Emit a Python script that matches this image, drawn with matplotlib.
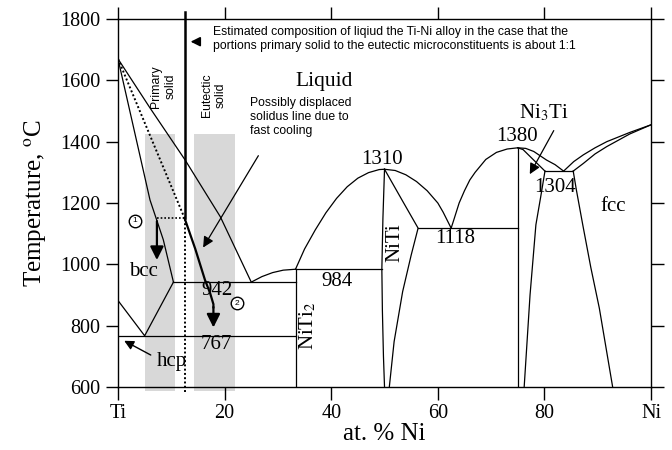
import matplotlib.pyplot as plt

plt.rcParams['font.family'] = 'Liberation Serif'
plt.rcParams['mathtext.fontset'] = 'stix'

# phase boundaries (at.% Ni, temperature in C)
liq_ti_x = [0, 6, 12.6, 19.2, 25.0]
liq_ti_T = [1670, 1510, 1340, 1155, 942]
sol_bcc_x = [0, 6.0, 8.5, 10.4]
sol_bcc_T = [1670, 1210, 1080, 942]
transus_x = [0, 5.0, 10.4]
transus_T = [882, 767, 942]
liq_ti2ni_x = [25.0, 27, 29, 31, 33.3]
liq_ti2ni_T = [942, 960, 973, 981, 984]
liq_niti_l_x = [33.3, 35, 37, 39, 41, 43, 45, 47, 49, 50]
liq_niti_l_T = [984, 1050, 1112, 1168, 1215, 1253, 1281, 1299, 1309, 1310]
liq_niti_r_x = [50, 52, 54, 56, 58, 60, 61, 62.5]
liq_niti_r_T = [1310, 1306, 1292, 1270, 1240, 1200, 1170, 1118]
liq_ni3ti_l_x = [62.5, 63, 64, 65, 66, 67, 69, 71, 73, 75]
liq_ni3ti_l_T = [1118, 1145, 1200, 1240, 1275, 1300, 1342, 1365, 1376, 1380]
liq_ni3ti_r_x = [75, 76.5, 78, 80.4, 82, 83.6]
liq_ni3ti_r_T = [1380, 1378, 1368, 1340, 1325, 1304]
sol_ni3ti_x = [75, 76, 80.1]
sol_ni3ti_T = [1380, 1374, 1304]
liq_fcc_x = [83.6, 85.5, 87.3, 89.5, 91.7, 96, 100]
liq_fcc_T = [1304, 1335, 1357, 1380, 1400, 1430, 1455]
sol_fcc_x = [85.4, 87.3, 89.5, 91.7, 96, 100]
sol_fcc_T = [1304, 1329, 1360, 1384, 1425, 1455]
ni3ti_r_x = [80.1, 79.3, 78.4, 77.3, 76.2]
ni3ti_r_T = [1304, 1220, 1129, 900, 600]
solvus_fcc_x = [85.4, 86.0, 87.2, 88.7, 90.3, 92.8]
solvus_fcc_T = [1304, 1242, 1128, 990, 857, 600]
niti_l_x = [50, 49.7, 49.5, 49.6, 49.8, 50.0]
niti_l_T = [1310, 1150, 984, 850, 700, 600]
niti_r_x = [50, 53.5, 56.3, 55.0, 53.4, 51.8, 50.9]
niti_r_T = [1310, 1203, 1118, 1030, 911, 748, 600]

# invariant lines: (x_start, x_end, T)
invariants = [(10.4, 33.3, 942), (0, 33.3, 767), (33.3, 49.5, 984),
              (56.3, 75, 1118), (80.1, 85.4, 1304)]
# compounds drawn as vertical lines: (x, T_top)
compounds = [(33.3, 984), (75, 1380)]

# alloy composition and displaced solidus path
alloy_x = 12.5
alloy_T = 1150
path_x = [12.5, 14.5, 16.3, 17.3, 17.9, 17.9]
path_T = [1150, 1050, 950, 905, 870, 860]

# shaded bands (x_start, x_end)
bands = [(5.1, 10.7), (14.3, 21.95)]
band_T = (588, 1425)

xticks = [0, 20, 40, 60, 80, 100]
xticklabels = ['Ti', '20', '40', '60', '80', 'Ni']
yticks = [600, 800, 1000, 1200, 1400, 1600, 1800]

fig = plt.figure(figsize=(6.72, 4.5), dpi=100)
ax = fig.add_axes([0.1756, 0.14, 0.7932, 0.8178])

for x0, x1 in bands:
    ax.fill_between([x0, x1], band_T[0], band_T[1], color='#d8d8d8',
                    lw=0, zorder=0, clip_on=False)

lw = 0.9
curves = [(liq_ti_x, liq_ti_T), (sol_bcc_x, sol_bcc_T), (transus_x, transus_T),
          (liq_ti2ni_x, liq_ti2ni_T), (liq_niti_l_x, liq_niti_l_T),
          (liq_niti_r_x, liq_niti_r_T), (liq_ni3ti_l_x, liq_ni3ti_l_T),
          (liq_ni3ti_r_x, liq_ni3ti_r_T), (sol_ni3ti_x, sol_ni3ti_T),
          (liq_fcc_x, liq_fcc_T), (sol_fcc_x, sol_fcc_T), (ni3ti_r_x, ni3ti_r_T),
          (solvus_fcc_x, solvus_fcc_T), (niti_l_x, niti_l_T), (niti_r_x, niti_r_T)]
for cx, cT in curves:
    ax.plot(cx, cT, color='k', lw=lw)
for x0, x1, T in invariants:
    ax.plot([x0, x1], [T, T], color='k', lw=lw)
for x, T in compounds:
    ax.plot([x, x], [600, T], color='k', lw=lw)

# dotted construction lines
ax.plot([0, alloy_x], [1670, alloy_T], color='k', lw=1.4, ls=(0, (1, 1.2)))
ax.plot([7.3, alloy_x], [alloy_T, alloy_T], color='k', lw=1.2, ls=(0, (1, 1.2)))
ax.plot([alloy_x, alloy_x], [585, alloy_T], color='k', lw=1.4, ls=(0, (1, 1.2)),
        clip_on=False)
ax.plot([alloy_x, alloy_x], [alloy_T, 1823], color='k', lw=1.8, clip_on=False)

# displaced solidus path with arrow
ax.plot(path_x, path_T, color='k', lw=1.6)
ax.annotate('', xy=(17.9, 785), xytext=(17.9, 870),
            arrowprops=dict(arrowstyle='-|>', color='k', lw=1.6, mutation_scale=20))
ax.annotate('', xy=(7.3, 1005), xytext=(7.3, 1150),
            arrowprops=dict(arrowstyle='-|>', color='k', lw=1.6, mutation_scale=20))

# annotation arrows
ax.annotate('', xy=(15.7, 1047), xytext=(26.6, 1362),
            arrowprops=dict(arrowstyle='-|>', color='k', lw=0.9, mutation_scale=16))
ax.annotate('', xy=(13.1, 1726), xytext=(15.6, 1726),
            arrowprops=dict(arrowstyle='-|>', color='k', lw=1.2, mutation_scale=14))
ax.annotate('', xy=(0.7, 755), xytext=(6.6, 700),
            arrowprops=dict(arrowstyle='-|>', color='k', lw=1.0, mutation_scale=14))
ax.annotate('', xy=(77, 1286), xytext=(82, 1444),
            arrowprops=dict(arrowstyle='-|>', color='k', lw=0.9, mutation_scale=16))

# circled markers
for (cx, cT, s) in [(3.2, 1142, '1'), (22.3, 873, '2')]:
    ax.plot(cx, cT, 'o', ms=9, mfc='white', mec='k', mew=1.0)
    ax.text(cx, cT, s, fontsize=6, ha='center', va='center', family='Liberation Sans')

fs = 15
ax.text(38.6, 1596, 'Liquid', fontsize=15.5, ha='center', va='center')
ax.text(4.75, 976, 'bcc', fontsize=fs, ha='center', va='center')
ax.text(10.1, 682, 'hcp', fontsize=fs, ha='center', va='center')
ax.text(18.5, 916, '942', fontsize=fs, ha='center', va='center')
ax.text(18.5, 737, '767', fontsize=fs, ha='center', va='center')
ax.text(41, 943, '984', fontsize=fs, ha='center', va='center')
ax.text(49.5, 1342, '1310', fontsize=fs, ha='center', va='center')
ax.text(63.2, 1085, '1118', fontsize=fs, ha='center', va='center')
ax.text(74.8, 1416, '1380', fontsize=fs, ha='center', va='center')
ax.text(82, 1251, '1304', fontsize=fs, ha='center', va='center')
ax.text(92.9, 1190, 'fcc', fontsize=fs, ha='center', va='center')
ax.text(79.8, 1492, 'Ni$_3$Ti', fontsize=fs, ha='center', va='center')
ax.text(52, 1069, 'NiTi', fontsize=fs, ha='center', va='center', rotation=90)
ax.text(35.7, 800, 'NiTi$_2$', fontsize=fs, ha='center', va='center', rotation=90)

sans = 'Liberation Sans'
ax.text(17.9, 1735, 'Estimated composition of liqiud the Ti-Ni alloy in the case that the\n'
        'portions primary solid to the eutectic microconstituents is about 1:1',
        fontsize=8.8, family=sans, ha='left', va='center', linespacing=1.2)
ax.text(8.5, 1580, 'Primary\nsolid', fontsize=8.8, family=sans, ha='center',
        va='center', rotation=90, multialignment='center')
ax.text(17.9, 1552, 'Eutectic\nsolid', fontsize=8.8, family=sans, ha='center',
        va='center', rotation=90, multialignment='center')
ax.text(24.8, 1480, 'Possibly displaced\nsolidus line due to\nfast cooling',
        fontsize=8.8, family=sans, ha='left', va='center', linespacing=1.2)

ax.set_xlim(0, 100)
ax.set_ylim(600, 1800)
ax.set_xticks(xticks)
ax.set_xticklabels(xticklabels)
ax.set_yticks(yticks)
ax.tick_params(direction='out', length=9, width=1.0, labelsize=14.5,
               top=True, right=True)
for sp in ax.spines.values():
    sp.set_linewidth(1.0)
ax.set_xlabel('at. % Ni', fontsize=18, labelpad=0)
ax.set_ylabel('Temperature, $^\\mathrm{o}$C', fontsize=18, labelpad=8)

fig.savefig('out.png', dpi=100)
